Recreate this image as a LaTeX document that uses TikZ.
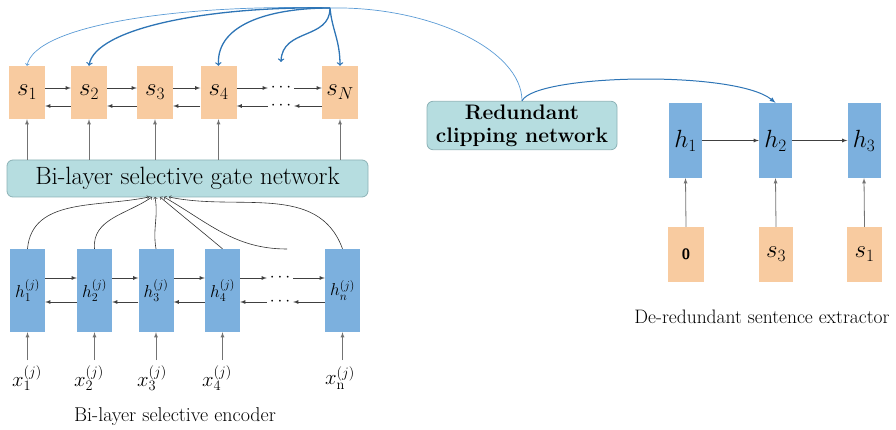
\documentclass[tikz,border=0pt]{standalone}
\usetikzlibrary{arrows, calc, positioning}
\definecolor{sOrange}{RGB}{248,203,160}
\definecolor{hBlue}{RGB}{124,176,222}
\definecolor{gateFill}{RGB}{182,221,224}
\definecolor{gateLine}{RGB}{140,178,182}
\definecolor{linkBlue}{RGB}{46,117,182}
\definecolor{lightBlue}{RGB}{91,155,213}
\tikzset{
    sBox/.style={rectangle, fill=sOrange, inner sep=0pt, minimum width=36pt, minimum height=53pt, font=\fontsize{24}{26}\selectfont},
    hBox/.style={rectangle, fill=hBlue, inner sep=0pt, minimum width=35pt, minimum height=83pt, font=\fontsize{18}{20}\selectfont},
    rhBox/.style={hBox, minimum width=33pt, minimum height=75pt, font=\fontsize{25}{27}\selectfont},
    gateBox/.style={rectangle, rounded corners=6pt, draw=gateLine, fill=gateFill, line width=0.8pt},
    dotsNode/.style={inner sep=0pt, minimum width=26pt, font=\fontsize{18}{20}\selectfont},
    inLabel/.style={font=\fontsize{21}{23}\selectfont},
    seqEdge/.style={->, >=latex, line width=0.8pt, draw=black!75},
    upEdge/.style={->, >=latex, line width=0.8pt, draw=black!55},
    gateEdge/.style={->, >=to, line width=0.6pt, draw=black!80},
    attnThick/.style={->, >=to, line width=1.3pt, draw=linkBlue},
    attnThin/.style={->, >=to, line width=0.7pt, draw=lightBlue},
}
% two-way link, #3 = shift of the upper arrow, #4 = shift of the lower one
\newcommand{\biLink}[4]{
    \draw[seqEdge] ([yshift=#3]#1.east) -- ([yshift=#3]#2.west);
    \draw[seqEdge] ([yshift=#4]#2.west) -- ([yshift=#4]#1.east);
}
\newcommand{\upLink}[2]{
    \draw[upEdge] (#1) -- (#2);
}

\begin{document}
\begin{tikzpicture}[x=1pt, y=-1pt]
    \useasboundingbox (0,0) rectangle (896,430);

    % sentence states
    \node[sBox] (s1) at (27,92.5) {$s_1$};
    \node[sBox] (s2) at (89,92.5) {$s_2$};
    \node[sBox] (s3) at (155,92.5) {$s_3$};
    \node[sBox] (s4) at (218.5,92.5) {$s_4$};
    \node[sBox] (sN) at (340,92.5) {$s_N$};
    \node[dotsNode] (sdotsA) at (281,88) {$\cdots$};
    \node[dotsNode] (sdotsB) at (281,106) {$\cdots$};
    \coordinate (sdotsTop) at (281,62);

    \biLink{s1}{s2}{4.5pt}{-13.5pt}
    \biLink{s2}{s3}{4.5pt}{-13.5pt}
    \biLink{s3}{s4}{4.5pt}{-13.5pt}
    \draw[seqEdge] ([yshift=4.5pt]s4.east) -- (sdotsA.west);
    \draw[seqEdge] (sdotsA.east) -- ([yshift=4.5pt]sN.west);
    \draw[seqEdge] ([yshift=-13.5pt]sN.west) -- (sdotsB.east);
    \draw[seqEdge] (sdotsB.west) -- ([yshift=-13.5pt]s4.east);

    % gate network
    \node[gateBox, minimum width=361pt, minimum height=37pt, font=\fontsize{25}{27}\selectfont] (gate) at (187.5,178.5) {Bi-layer selective gate network};
    \foreach \s in {s1, s2, s3, s4, sN}{
        \upLink{gate.north -| \s}{\s.south}
    }

    % word encoder
    \node[hBox] (h1) at (27.5,290.5) {$h_1^{(j)}$};
    \node[hBox] (h2) at (94.5,290.5) {$h_2^{(j)}$};
    \node[hBox] (h3) at (156,290.5) {$h_3^{(j)}$};
    \node[hBox] (h4) at (222.5,290.5) {$h_4^{(j)}$};
    \node[hBox] (hn) at (342.5,290.5) {$h_n^{(j)}$};
    \node[dotsNode] (hdotsA) at (280,278) {$\cdots$};
    \node[dotsNode] (hdotsB) at (280,302) {$\cdots$};
    \coordinate (hdotsTop) at (287,249);

    \biLink{h1}{h2}{12.5pt}{-11.5pt}
    \biLink{h2}{h3}{12.5pt}{-11.5pt}
    \biLink{h3}{h4}{12.5pt}{-11.5pt}
    \draw[seqEdge] ([yshift=12.5pt]h4.east) -- (hdotsA.west);
    \draw[seqEdge] (hdotsA.east) -- ([yshift=12.5pt]hn.west);
    \draw[seqEdge] ([yshift=-11.5pt]hn.west) -- (hdotsB.east);
    \draw[seqEdge] (hdotsB.west) -- ([yshift=-11.5pt]h4.east);

    % inputs
    \node[inLabel] (x1) at (27,378) {$x_1^{(j)}$};
    \node[inLabel] (x2) at (89,378) {$x_2^{(j)}$};
    \node[inLabel] (x3) at (152,378) {$x_3^{(j)}$};
    \node[inLabel] (x4) at (217,378) {$x_4^{(j)}$};
    \node[inLabel] (xn) at (340,378) {$x_{\mathrm{n}}^{(j)}$};
    \foreach \h in {h1, h2, h3, h4, hn}{
        \upLink{\h.south |- 0,360}{\h.south}
    }

    % into the gate network
    \coordinate (g1) at (149,197);
    \coordinate (g2) at (152,197);
    \coordinate (g3) at (155,197);
    \coordinate (g4) at (160,197);
    \coordinate (g5) at (164,197);
    \coordinate (g6) at (169,197);
    \draw[gateEdge] (h1.north) to[out=85, in=192] (g1);
    \draw[gateEdge] (h2.north) to[out=95, in=215] (g2);
    \draw[gateEdge] (h3.north) to[out=100, in=-80] (g3);
    \draw[gateEdge] (h4.north) to[out=140, in=-40] (g4);
    \draw[gateEdge] (hdotsTop) to[out=180, in=-30] (g5);
    \draw[gateEdge] (hn.north) to[out=110, in=-12] (g6);

    \node[font=\fontsize{20}{22}\selectfont] (encLabel) at (175,417) {Bi-layer selective encoder};

    % attention from the source
    \coordinate (src) at (330,8);
    \draw[attnThin] (src) .. controls (180,4) and (35,25) .. (s1.north);
    \draw[attnThick] (src) .. controls (210,6) and (95,28) .. (s2.north);
    \draw[attnThick] (src) .. controls (275,8) and (216,22) .. (s4.north);
    \draw[attnThick] (src) .. controls (330,40) and (282,28) .. (sdotsTop);
    \draw[attnThick] (src) .. controls (332,30) and (340,40) .. (sN.north);

    % clipping network
    \node[gateBox, minimum width=190pt, minimum height=45pt, align=center, font=\bfseries\fontsize{21}{23}\selectfont] (clip) at (522,125.5) {Redundant\\clipping network};
    \draw[line width=0.7pt, draw=lightBlue] (src) .. controls (430,6) and (522,50) .. (clip.north);

    % sentence extractor
    \node[rhBox] (rh1) at (685.5,140.5) {$h_1$};
    \node[rhBox] (rh2) at (775.5,140.5) {$h_2$};
    \node[rhBox] (rh3) at (864,140.5) {$h_3$};
    \node[sBox, minimum height=55pt, font=\sffamily\bfseries\fontsize{15}{17}\selectfont] (r0) at (686,254.5) {0};
    \node[sBox, minimum width=34pt, minimum height=55pt] (rs3) at (776,254.5) {$s_3$};
    \node[sBox, minimum width=35pt, minimum height=55pt] (rs1) at (864.5,254.5) {$s_1$};

    \draw[seqEdge] (rh1) -- (rh2);
    \draw[seqEdge] (rh2) -- (rh3);
    \upLink{r0.north}{rh1.south}
    \upLink{rs3.north}{rh2.south}
    \upLink{rs1.north}{rh3.south}
    \draw[->, >=latex, line width=1pt, draw=linkBlue] (clip.north) .. controls (535,74) and (735,70) .. (rh2.north);

    \node[font=\fontsize{19.5}{22}\selectfont] (extLabel) at (762,317) {De-redundant sentence extractor};
\end{tikzpicture}
\end{document}
